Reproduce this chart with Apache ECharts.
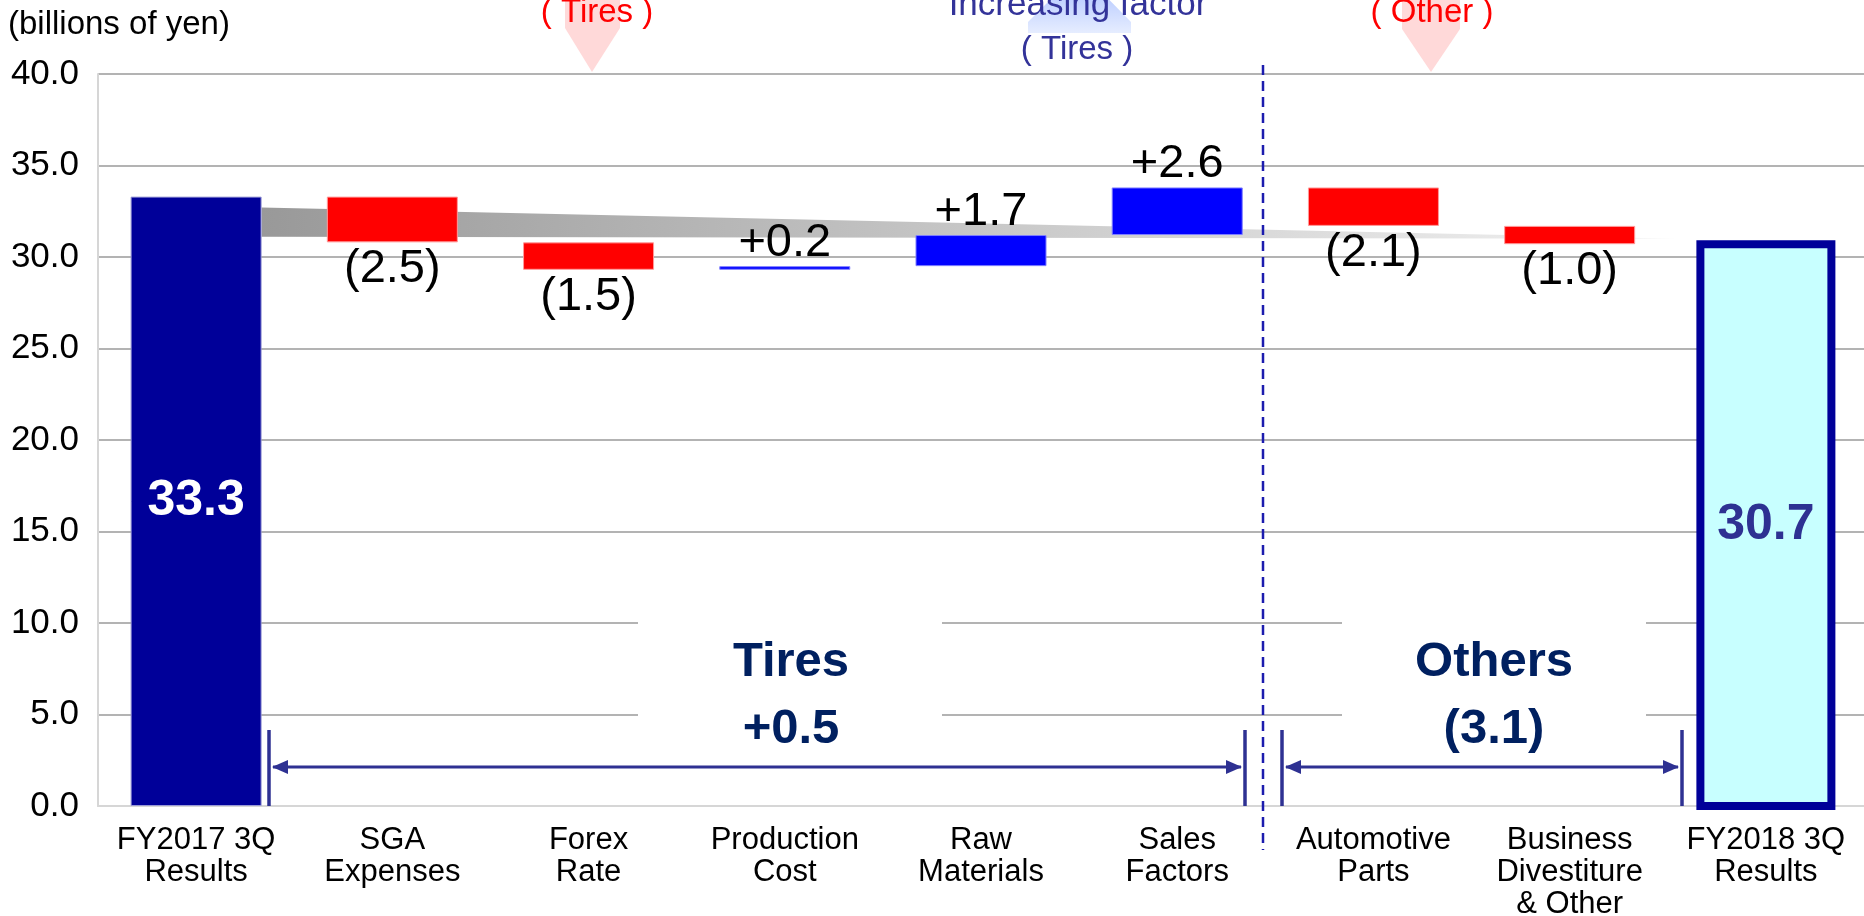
<!DOCTYPE html>
<html>
<head>
<meta charset="utf-8">
<script src="https://cdn.jsdelivr.net/npm/echarts@6/dist/echarts.min.js"></script>
<style>
  html, body { margin: 0; padding: 0; background: #ffffff; }
  #chart { width: 1864px; height: 916px; }
</style>
</head>
<body>
<div id="chart"></div>
<script>
// ---- data ---------------------------------------------------------------
const categories = [
  'FY2017 3Q\nResults',
  'SGA\nExpenses',
  'Forex\nRate',
  'Production\nCost',
  'Raw\nMaterials',
  'Sales\nFactors',
  'Automotive\nParts',
  'Business\nDivestiture\n& Other',
  'FY2018 3Q\nResults'
];
const startValue = 33.3;                                 // FY2017 3Q operating income
const changes = [-2.5, -1.5, 0.2, 1.7, 2.6, -2.1, -1.0]; // SGA ... Business Divestiture
const endValue = 30.7;                                   // FY2018 3Q operating income
const segmentNames = ['Tires', 'Others'];
const segmentSteps = [5, 2];                             // how many change steps belong to each segment
const yMin = 0, yMax = 40, yStep = 5;
const trendTop = [32.7, 31.0];                           // grey trend band, upper edge (start, end)
const trendBottom = [31.1, 31.0];                        // grey trend band, lower edge (start, end)

// ---- styling / layout ---------------------------------------------------
const FONT = '"Liberation Sans", Arial, "Noto Sans CJK JP", sans-serif';
const BAR_W = 131;
const END_BORDER = 8;
const NAVY = '#000099';
const ARROW = '#2e3192';
const SEG_TEXT = '#002060';

const layout = {
  unit: { x: 8, y: 25 },
  divider: { x: 1263, y1: 65, y2: 850 },
  bracket: { y: 767, top: 730, bottom: 806, head: 16, half: 7 },
  brackets: [[269, 1245], [1282, 1682]],
  segText: [
    { x: 791, y1: 662, y2: 729, mask: [638, 590, 304, 170] },
    { x: 1494, y1: 662, y2: 729, mask: [1342, 590, 304, 170] }
  ]
};

function fmtChange(v) {
  const a = Math.abs(v).toFixed(1);
  return v >= 0 ? '+' + a : '(' + a + ')';
}

// ---- waterfall stacks ---------------------------------------------------
const baseData = [];
const barData = [];

baseData.push(0);
barData.push({
  value: startValue,
  itemStyle: { color: NAVY, borderColor: '#9a9ad6', borderWidth: 1 },
  label: {
    show: true, position: 'inside', formatter: startValue.toFixed(1),
    color: '#ffffff', fontSize: 50, fontWeight: 'bold', fontFamily: FONT
  }
});

let level = startValue;
changes.forEach(function (d) {
  const next = level + d;
  baseData.push(Math.min(level, next));
  const up = d >= 0;
  barData.push({
    value: Math.abs(d),
    itemStyle: up
      ? { color: '#0000ff', borderColor: '#7f7fff', borderWidth: 1 }
      : { color: '#ff0000', borderColor: '#ff9a9a', borderWidth: 1 },
    label: {
      show: true,
      position: up ? 'top' : 'bottom',
      distance: up ? -1 : 3,
      formatter: fmtChange(d),
      color: '#000000', fontSize: 47, fontFamily: FONT, lineHeight: 48
    }
  });
  level = next;
});

// the closing bar is drawn by its own series (thick outline)
baseData.push('-');
barData.push('-');

// segment totals (Tires / Others)
const segmentTotals = [];
let offset = 0;
segmentSteps.forEach(function (n) {
  segmentTotals.push(changes.slice(offset, offset + n).reduce(function (s, v) { return s + v; }, 0));
  offset += n;
});

// ---- annotations --------------------------------------------------------
const graphics = [];

graphics.push({
  type: 'text', z: 10,
  style: {
    text: '(billions of yen)', x: layout.unit.x, y: layout.unit.y,
    font: '33px ' + FONT, fill: '#000000',
    align: 'left', verticalAlign: 'middle', textAlign: 'left', textVerticalAlign: 'middle'
  }
});

// segment headline masks + texts
layout.segText.forEach(function (s, i) {
  graphics.push({
    type: 'rect', z: 1,
    shape: { x: s.mask[0], y: s.mask[1], width: s.mask[2], height: s.mask[3] },
    style: { fill: '#ffffff' }
  });
  graphics.push({
    type: 'text', z: 10,
    style: {
      text: segmentNames[i], x: s.x, y: s.y1,
      font: 'bold 49px ' + FONT, fill: SEG_TEXT,
      align: 'center', verticalAlign: 'middle', textAlign: 'center', textVerticalAlign: 'middle'
    }
  });
  graphics.push({
    type: 'text', z: 10,
    style: {
      text: fmtChange(segmentTotals[i]), x: s.x, y: s.y2,
      font: 'bold 49px ' + FONT, fill: SEG_TEXT,
      align: 'center', verticalAlign: 'middle', textAlign: 'center', textVerticalAlign: 'middle'
    }
  });
});

// segment brackets with arrow heads
const B = layout.bracket;
layout.brackets.forEach(function (pair) {
  const xl = pair[0], xr = pair[1];
  [xl, xr].forEach(function (x) {
    graphics.push({
      type: 'line', z: 6,
      shape: { x1: x, y1: B.top, x2: x, y2: B.bottom },
      style: { stroke: ARROW, lineWidth: 3.5 }
    });
  });
  graphics.push({
    type: 'line', z: 6,
    shape: { x1: xl + 4, y1: B.y, x2: xr - 4, y2: B.y },
    style: { stroke: ARROW, lineWidth: 3 }
  });
  graphics.push({
    type: 'polygon', z: 6,
    shape: { points: [[xl + 3, B.y], [xl + 3 + B.head, B.y - B.half], [xl + 3 + B.head, B.y + B.half]] },
    style: { fill: ARROW }
  });
  graphics.push({
    type: 'polygon', z: 6,
    shape: { points: [[xr - 3, B.y], [xr - 3 - B.head, B.y - B.half], [xr - 3 - B.head, B.y + B.half]] },
    style: { fill: ARROW }
  });
});

// divider between Tires and Others
graphics.push({
  type: 'line', z: 7,
  shape: { x1: layout.divider.x, y1: layout.divider.y1, x2: layout.divider.x, y2: layout.divider.y2 },
  style: { stroke: '#1c1cae', lineWidth: 2.5, lineDash: [10, 6] }
});

// top call-outs
graphics.push({
  type: 'polygon', z: 3,
  shape: { points: [[565, -5], [620, -5], [620, 28], [592, 72], [565, 28]] },
  style: { fill: '#ffd9d9' }
});
graphics.push({
  type: 'polygon', z: 3,
  shape: { points: [[1402, -5], [1460, -5], [1460, 29], [1431, 72], [1402, 29]] },
  style: { fill: '#ffd9d9' }
});
graphics.push({
  type: 'polygon', z: 3,
  shape: { points: [[1028, 33], [1131, 33], [1131, 22], [1080, -30], [1028, 22]] },
  style: {
    fill: new echarts.graphic.LinearGradient(0, 1, 0, 0, [
      { offset: 0, color: '#e6edff' },
      { offset: 1, color: '#9fb8ff' }
    ])
  }
});
[
  { text: '( Tires )', x: 597, y: 13, color: '#ff0000', size: 33 },
  { text: '( Other )', x: 1432, y: 13, color: '#ff0000', size: 33 },
  { text: 'Increasing factor', x: 1078, y: 5, color: '#333399', size: 35 },
  { text: '( Tires )', x: 1077, y: 50, color: '#333399', size: 33 }
].forEach(function (t) {
  graphics.push({
    type: 'text', z: 10,
    style: {
      text: t.text, x: t.x, y: t.y, font: t.size + 'px ' + FONT, fill: t.color,
      align: 'center', verticalAlign: 'middle', textAlign: 'center', textVerticalAlign: 'middle'
    }
  });
});

// ---- chart --------------------------------------------------------------
const chart = echarts.init(document.getElementById('chart'), null, { renderer: 'canvas' });

chart.setOption({
  animation: false,
  backgroundColor: '#ffffff',
  textStyle: { fontFamily: FONT },
  grid: {
    left: 98, right: 0, top: 74, bottom: 110,
    containLabel: false,
    outerBoundsMode: 'none'
  },
  xAxis: {
    type: 'category',
    data: categories,
    axisLine: { show: true, lineStyle: { color: '#d6d6d6', width: 2 } },
    axisTick: { show: false },
    axisLabel: {
      interval: 0, margin: 18, color: '#000000',
      fontSize: 31, lineHeight: 32, fontFamily: FONT
    },
    splitLine: { show: false }
  },
  yAxis: {
    type: 'value',
    min: yMin, max: yMax, interval: yStep,
    axisLine: { show: true, lineStyle: { color: '#d6d6d6', width: 2 } },
    axisTick: { show: false },
    axisLabel: {
      margin: 19, color: '#000000', fontSize: 35, fontFamily: FONT,
      formatter: function (v) { return v.toFixed(1); }
    },
    splitLine: { show: true, lineStyle: { color: '#9a9a9a', width: 1.5 } }
  },
  series: [
    {
      type: 'custom',
      name: 'trend',
      z: 1,
      silent: true,
      data: [[0, trendTop[0], trendBottom[0], trendTop[1], trendBottom[1]]],
      renderItem: function (params, api) {
        const band = api.size([1, 0])[0];
        const x0 = api.coord([0, 0])[0] + BAR_W / 2;
        const x1 = api.coord([categories.length - 2, 0])[0] + band * 0.54;
        const yT0 = api.coord([0, api.value(1)])[1];
        const yB0 = api.coord([0, api.value(2)])[1];
        const yT1 = api.coord([0, api.value(3)])[1];
        const yB1 = api.coord([0, api.value(4)])[1];
        return {
          type: 'polygon',
          shape: { points: [[x0, yT0], [x1, yT1], [x1, yB1], [x0, yB0]] },
          style: {
            fill: new echarts.graphic.LinearGradient(0, 0, 1, 0, [
              { offset: 0, color: '#999999' },
              { offset: 1, color: '#f4f4f4' }
            ])
          }
        };
      }
    },
    {
      type: 'bar',
      name: 'base',
      stack: 'waterfall',
      barWidth: BAR_W,
      silent: true,
      itemStyle: { color: 'transparent' },
      data: baseData,
      z: 2
    },
    {
      type: 'bar',
      name: 'change',
      stack: 'waterfall',
      barWidth: BAR_W,
      data: barData,
      z: 3
    },
    {
      type: 'custom',
      name: 'FY2018 3Q',
      z: 4,
      data: [[categories.length - 1, endValue]],
      renderItem: function (params, api) {
        const top = api.coord([api.value(0), api.value(1)]);
        const base = api.coord([api.value(0), 0]);
        return {
          type: 'rect',
          shape: { x: top[0] - BAR_W / 2, y: top[1], width: BAR_W, height: base[1] - top[1] },
          style: { fill: '#c8ffff', stroke: NAVY, lineWidth: END_BORDER },
          textContent: {
            style: {
              text: api.value(1).toFixed(1),
              fill: ARROW, fontSize: 50, fontWeight: 'bold', fontFamily: FONT
            }
          },
          textConfig: { position: 'inside' }
        };
      }
    }
  ],
  graphic: { elements: graphics }
});
</script>
</body>
</html>
